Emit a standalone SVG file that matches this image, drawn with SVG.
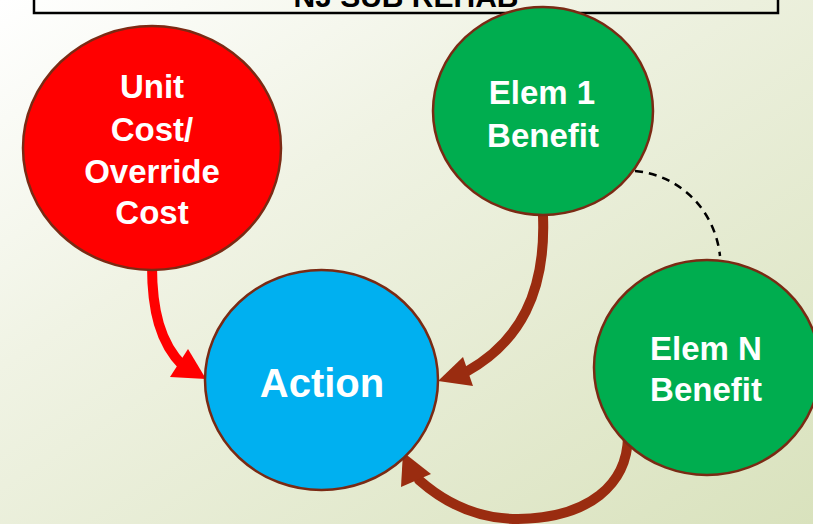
<svg xmlns="http://www.w3.org/2000/svg" width="813" height="524" viewBox="0 0 813 524">
  <defs>
    <linearGradient id="bg" x1="0" y1="0" x2="1" y2="1">
      <stop offset="0" stop-color="#ffffff"/>
      <stop offset="0.35" stop-color="#f0f3e4"/>
      <stop offset="1" stop-color="#d9e2bd"/>
    </linearGradient>
    <style>
      .node { stroke: #7a2a14; stroke-width: 2.5; }
      .label { font-family: "Liberation Sans", Arial, sans-serif; font-weight: bold; fill: #ffffff; text-anchor: middle; }
      .flow { fill: none; stroke-width: 10; stroke-linecap: round; }
      .title { font-family: "Liberation Sans", Arial, sans-serif; font-weight: bold; font-size: 30px; fill: #000000; text-anchor: middle; }
    </style>
  </defs>

  <!-- background -->
  <rect x="0" y="0" width="813" height="524" fill="url(#bg)"/>

  <!-- title banner -->
  <g id="title">
    <rect x="34" y="-12" width="744" height="25" fill="none" stroke="#000000" stroke-width="2.5"/>
    <text class="title" x="406" y="7">NJ SUB REHAB</text>
  </g>

  <!-- connectors -->
  <g id="connectors">
    <path class="flow" stroke="#ff0000" stroke-linecap="butt" d="M152,266 C152,310 160,343 183,366"/>
    <polygon fill="#ff0000" points="206,379 170,377 188,349"/>

    <path class="flow" stroke="#9a2c10" d="M543,216 C546,292 520,342 466,372"/>
    <polygon fill="#9a2c10" points="438,381 463,357 473,386"/>

    <path class="flow" stroke="#9a2c10" d="M628,437 C627,484 590,518 518,519 C476,519 445,503 419,480"/>
    <polygon fill="#9a2c10" points="403,452 401,487 431,474"/>

    <path fill="none" stroke="#000000" stroke-width="2.5" stroke-dasharray="8,6" d="M635,171 C680,175 715,210 720,256"/>
  </g>

  <!-- nodes -->
  <g id="node-cost">
    <ellipse class="node" cx="152" cy="148" rx="129" ry="122" fill="#ff0000"/>
    <text class="label" font-size="33" x="152" y="98">Unit</text>
    <text class="label" font-size="33" x="152" y="140.5">Cost/</text>
    <text class="label" font-size="33" x="152" y="182.5">Override</text>
    <text class="label" font-size="33" x="152" y="224">Cost</text>
  </g>

  <g id="node-elem1">
    <ellipse class="node" cx="543" cy="111" rx="110" ry="104" fill="#00ad4f"/>
    <text class="label" font-size="33" x="542" y="104">Elem 1</text>
    <text class="label" font-size="33" x="543" y="146.5">Benefit</text>
  </g>

  <g id="node-action">
    <ellipse class="node" cx="321.5" cy="380" rx="116.5" ry="110" fill="#00b0f0"/>
    <text class="label" font-size="40" x="322" y="396.5">Action</text>
  </g>

  <g id="node-elemN">
    <ellipse class="node" cx="707" cy="367.5" rx="113" ry="107.5" fill="#00ad4f"/>
    <text class="label" font-size="33" x="706" y="360">Elem N</text>
    <text class="label" font-size="33" x="706" y="401">Benefit</text>
  </g>
</svg>
